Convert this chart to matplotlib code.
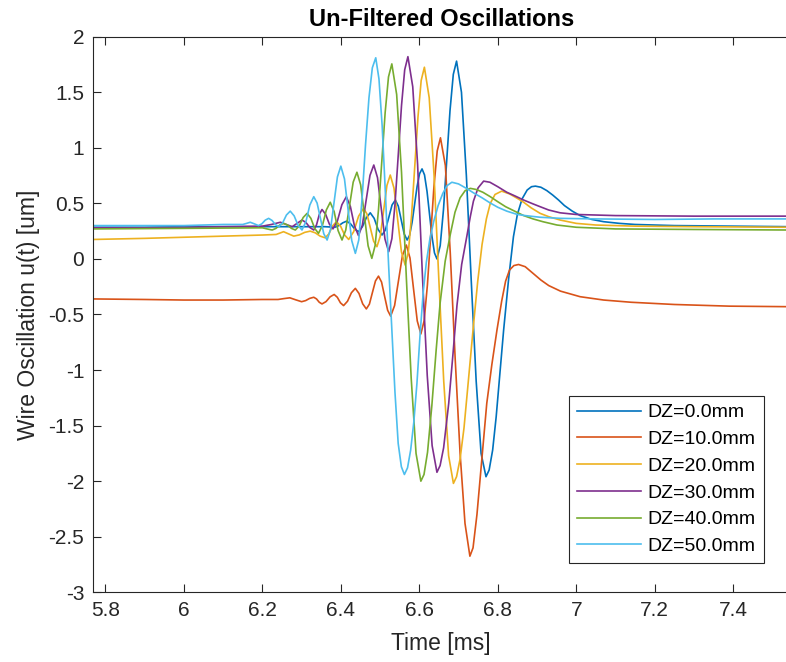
import matplotlib
matplotlib.use("Agg")
import matplotlib.pyplot as plt

plt.rcParams["font.family"] = ["Liberation Sans", "DejaVu Sans"]
plt.rcParams["axes.unicode_minus"] = False

# (time [ms], u [um])
dz0 = [(5.767, 0.285), (5.9, 0.285), (6.0, 0.29), (6.1, 0.29), (6.2, 0.29), (6.3, 0.29), (6.36, 0.29),
       (6.385, 0.285), (6.395, 0.30), (6.405, 0.325), (6.415, 0.34), (6.425, 0.315), (6.435, 0.27),
       (6.445, 0.245), (6.455, 0.29), (6.465, 0.37), (6.475, 0.415), (6.485, 0.365), (6.495, 0.265),
       (6.505, 0.215), (6.5135, 0.26), (6.522, 0.37), (6.5305, 0.485), (6.539, 0.53), (6.5465, 0.475),
       (6.554, 0.35), (6.5615, 0.225), (6.569, 0.17), (6.5753, 0.213), (6.5817, 0.33), (6.588, 0.49),
       (6.5943, 0.65), (6.6007, 0.767), (6.607, 0.81), (6.6133, 0.756), (6.6197, 0.608), (6.626, 0.405),
       (6.6323, 0.203), (6.6387, 0.054), (6.645, 0.0), (6.6533, 0.119), (6.6617, 0.445), (6.67, 0.89),
       (6.6783, 1.335), (6.6867, 1.661), (6.695, 1.78), (6.7075, 1.5), (6.72, 0.75), (6.7325, -0.2),
       (6.745, -1.1), (6.7575, -1.75), (6.770, -1.96), (6.778, -1.9), (6.787, -1.72), (6.796, -1.42),
       (6.805, -1.05), (6.815, -0.64), (6.828, -0.17), (6.840, 0.2), (6.850, 0.4), (6.862, 0.54),
       (6.875, 0.62), (6.886, 0.65), (6.896, 0.655), (6.91, 0.645), (6.925, 0.615), (6.94, 0.575),
       (6.955, 0.53), (6.97, 0.48), (6.99, 0.43), (7.01, 0.39), (7.04, 0.355), (7.07, 0.335),
       (7.11, 0.32), (7.15, 0.31), (7.25, 0.30), (7.4, 0.295), (7.545, 0.29)]

dz10 = [(5.767, -0.36), (5.9, -0.365), (6.0, -0.37), (6.1, -0.37), (6.2, -0.365), (6.24, -0.365),
        (6.255, -0.357), (6.27, -0.35), (6.285, -0.368), (6.30, -0.385), (6.3103, -0.375), (6.3207, -0.355),
        (6.331, -0.345), (6.338, -0.36), (6.345, -0.39), (6.352, -0.405), (6.3623, -0.384), (6.3727, -0.341),
        (6.383, -0.32), (6.391, -0.345), (6.399, -0.395), (6.407, -0.42), (6.417, -0.381), (6.427, -0.304),
        (6.437, -0.265), (6.4463, -0.311), (6.4557, -0.404), (6.465, -0.45), (6.4728, -0.407),
        (6.4805, -0.3025), (6.4883, -0.198), (6.496, -0.155), (6.5038, -0.208), (6.5115, -0.335),
        (6.5193, -0.462), (6.527, -0.515), (6.537, -0.42), (6.547, -0.195), (6.557, 0.03), (6.567, 0.125),
        (6.5763, 0.008), (6.5855, -0.275), (6.5948, -0.558), (6.604, -0.675), (6.6123, -0.557),
        (6.6207, -0.234), (6.629, 0.2075), (6.6373, 0.649), (6.6457, 0.972), (6.654, 1.09), (6.6665, 0.84),
        (6.679, 0.05), (6.6915, -0.9), (6.704, -1.75), (6.7165, -2.38), (6.729, -2.675), (6.737, -2.6),
        (6.747, -2.3), (6.76, -1.78), (6.772, -1.3), (6.785, -0.95), (6.798, -0.64), (6.81, -0.38),
        (6.82, -0.2), (6.83, -0.1), (6.841, -0.06), (6.853, -0.05), (6.87, -0.07), (6.89, -0.13),
        (6.91, -0.19), (6.93, -0.24), (6.96, -0.29), (7.01, -0.34), (7.07, -0.37), (7.14, -0.39),
        (7.25, -0.41), (7.39, -0.425), (7.545, -0.43)]

dz20 = [(5.767, 0.175), (5.9, 0.185), (6.0, 0.195), (6.1, 0.205), (6.2, 0.215), (6.235, 0.22),
        (6.245, 0.233), (6.254, 0.245), (6.267, 0.225), (6.28, 0.205), (6.294, 0.216), (6.308, 0.239),
        (6.322, 0.25), (6.3347, 0.235), (6.3473, 0.205), (6.36, 0.19), (6.3697, 0.226), (6.3793, 0.299),
        (6.389, 0.335), (6.3993, 0.295), (6.4097, 0.215), (6.42, 0.175), (6.4327, 0.245), (6.4453, 0.385),
        (6.458, 0.455), (6.4665, 0.405), (6.475, 0.2825), (6.4835, 0.16), (6.492, 0.11), (6.5005, 0.204),
        (6.509, 0.4325), (6.5175, 0.661), (6.526, 0.755), (6.5355, 0.637), (6.545, 0.35), (6.5545, 0.063),
        (6.564, -0.055), (6.5722, 0.064), (6.5803, 0.39), (6.5885, 0.835), (6.5967, 1.28), (6.6048, 1.606),
        (6.613, 1.725), (6.6253, 1.45), (6.6377, 0.75), (6.65, -0.2), (6.6623, -1.1), (6.6747, -1.77),
        (6.687, -2.02), (6.695, -1.96), (6.704, -1.8), (6.714, -1.52), (6.725, -1.1), (6.738, -0.6),
        (6.749, -0.2), (6.76, 0.13), (6.771, 0.36), (6.781, 0.5), (6.793, 0.58), (6.81, 0.61),
        (6.83, 0.585), (6.85, 0.545), (6.866, 0.51), (6.885, 0.46), (6.908, 0.41), (6.93, 0.38),
        (6.959, 0.35), (7.0, 0.32), (7.05, 0.305), (7.15, 0.295), (7.3, 0.29), (7.545, 0.285)]

dz30 = [(5.767, 0.28), (5.9, 0.28), (6.0, 0.285), (6.1, 0.29), (6.2, 0.295), (6.223, 0.31),
        (6.246, 0.33), (6.261, 0.31), (6.276, 0.29), (6.2885, 0.32), (6.301, 0.35), (6.311, 0.328),
        (6.321, 0.283), (6.331, 0.26), (6.338, 0.306), (6.345, 0.399), (6.352, 0.445), (6.3613, 0.401),
        (6.3707, 0.314), (6.38, 0.27), (6.3913, 0.3425), (6.4027, 0.4875), (6.414, 0.56), (6.4243, 0.4725),
        (6.4347, 0.2975), (6.445, 0.21), (6.4548, 0.303), (6.4645, 0.5275), (6.4743, 0.752), (6.484, 0.845),
        (6.4935, 0.731), (6.503, 0.455), (6.5125, 0.179), (6.522, 0.065), (6.5302, 0.183), (6.5383, 0.504),
        (6.5465, 0.9425), (6.5547, 1.381), (6.5628, 1.702), (6.571, 1.82), (6.5833, 1.55), (6.5957, 0.85),
        (6.608, -0.15), (6.6203, -1.05), (6.6327, -1.68), (6.645, -1.92), (6.653, -1.86), (6.662, -1.7),
        (6.675, -1.3), (6.686, -0.85), (6.696, -0.42), (6.708, -0.05), (6.721, 0.2), (6.73, 0.38),
        (6.738, 0.52), (6.75, 0.64), (6.764, 0.70), (6.78, 0.69), (6.8, 0.65), (6.823, 0.60),
        (6.845, 0.565), (6.866, 0.53), (6.89, 0.495), (6.908, 0.47), (6.93, 0.44), (6.959, 0.415),
        (7.0, 0.40), (7.1, 0.39), (7.3, 0.385), (7.545, 0.385)]

dz40 = [(5.767, 0.27), (6.0, 0.275), (6.2, 0.28), (6.212, 0.27), (6.225, 0.26), (6.2347, 0.275),
        (6.2443, 0.305), (6.254, 0.32), (6.264, 0.305), (6.274, 0.275), (6.284, 0.26), (6.294, 0.2975),
        (6.304, 0.3725), (6.314, 0.41), (6.3237, 0.365), (6.3333, 0.275), (6.343, 0.23), (6.353, 0.30),
        (6.363, 0.44), (6.373, 0.51), (6.383, 0.425), (6.393, 0.255), (6.403, 0.17), (6.4125, 0.259),
        (6.422, 0.475), (6.4315, 0.691), (6.441, 0.78), (6.4505, 0.667), (6.46, 0.3925), (6.4695, 0.118),
        (6.479, 0.005), (6.4875, 0.122), (6.496, 0.4425), (6.5045, 0.88), (6.513, 1.3175), (6.5215, 1.638),
        (6.530, 1.755), (6.5423, 1.48), (6.5547, 0.78), (6.567, -0.17), (6.5793, -1.07), (6.5917, -1.75),
        (6.604, -2.0), (6.612, -1.94), (6.621, -1.74), (6.632, -1.32), (6.643, -0.82), (6.653, -0.4),
        (6.666, -0.02), (6.679, 0.22), (6.691, 0.42), (6.704, 0.55), (6.717, 0.615), (6.73, 0.635),
        (6.745, 0.625), (6.762, 0.6), (6.781, 0.56), (6.80, 0.515), (6.82, 0.47), (6.843, 0.43),
        (6.866, 0.39), (6.89, 0.36), (6.915, 0.335), (6.951, 0.305), (7.0, 0.285), (7.1, 0.27),
        (7.3, 0.265), (7.545, 0.26)]

dz50 = [(5.767, 0.30), (5.9, 0.30), (6.0, 0.30), (6.1, 0.31), (6.15, 0.31), (6.16, 0.32), (6.169, 0.33),
        (6.18, 0.315), (6.19, 0.30), (6.1987, 0.316), (6.2073, 0.349), (6.216, 0.365), (6.2247, 0.346),
        (6.2333, 0.309), (6.242, 0.29), (6.2517, 0.325), (6.2613, 0.395), (6.271, 0.43), (6.281, 0.3875),
        (6.291, 0.3025), (6.301, 0.26), (6.311, 0.335), (6.321, 0.485), (6.331, 0.56), (6.3395, 0.503),
        (6.348, 0.365), (6.3565, 0.227), (6.365, 0.17), (6.3738, 0.267), (6.3825, 0.5025), (6.3913, 0.738),
        (6.400, 0.835), (6.4093, 0.72), (6.4185, 0.4425), (6.4278, 0.165), (6.437, 0.05), (6.4457, 0.17),
        (6.4543, 0.55), (6.463, 1.03), (6.4717, 1.45), (6.4803, 1.72), (6.489, 1.81), (6.4972, 1.62),
        (6.5053, 1.2), (6.5135, 0.6), (6.5217, -0.05), (6.5298, -0.62), (6.538, -1.2), (6.5462, -1.66),
        (6.5543, -1.87), (6.562, -1.94), (6.57, -1.88), (6.578, -1.72), (6.586, -1.47), (6.594, -1.12),
        (6.602, -0.68), (6.61, -0.3), (6.618, -0.03), (6.627, 0.18), (6.637, 0.34), (6.648, 0.48),
        (6.66, 0.59), (6.671, 0.66), (6.683, 0.69), (6.70, 0.675), (6.72, 0.635), (6.738, 0.595),
        (6.76, 0.55), (6.78, 0.505), (6.80, 0.465), (6.823, 0.43), (6.85, 0.40), (6.87, 0.39),
        (6.908, 0.375), (6.96, 0.365), (7.05, 0.36), (7.2, 0.355), (7.35, 0.36), (7.545, 0.36)]

series = [dz0, dz10, dz20, dz30, dz40, dz50]
labels = ["DZ=0.0mm", "DZ=10.0mm", "DZ=20.0mm", "DZ=30.0mm", "DZ=40.0mm", "DZ=50.0mm"]
colors = ["#0072BD", "#D95319", "#EDB120", "#7E2F8E", "#77AC30", "#4DBEEE"]

xticks = [5.8, 6.0, 6.2, 6.4, 6.6, 6.8, 7.0, 7.2, 7.4]
xticklabels = ["5.8", "6", "6.2", "6.4", "6.6", "6.8", "7", "7.2", "7.4"]
yticks = [-3, -2.5, -2, -1.5, -1, -0.5, 0, 0.5, 1, 1.5, 2]
yticklabels = ["-3", "-2.5", "-2", "-1.5", "-1", "-0.5", "0", "0.5", "1", "1.5", "2"]

fig = plt.figure(figsize=(7.86, 6.62), dpi=100)
ax = fig.add_axes([0.1177, 0.1053, 0.8874, 0.8393])

for pts, lab, col in zip(series, labels, colors):
    t = [p[0] for p in pts]
    u = [p[1] for p in pts]
    ax.plot(t, u, color=col, linewidth=1.2, label=lab)

ax.set_xlim(5.767, 7.545)
ax.set_ylim(-3, 2)
ax.set_xticks(xticks)
ax.set_xticklabels(xticklabels)
ax.set_yticks(yticks)
ax.set_yticklabels(yticklabels)

edge = "#262626"
for s in ax.spines.values():
    s.set_color(edge)
    s.set_linewidth(0.8)
ax.tick_params(direction="in", top=True, right=False, length=6, width=0.8,
               colors=edge, labelsize=15, pad=6)

ax.set_xlabel("Time [ms]", fontsize=16.5, color=edge, labelpad=9)
ax.set_ylabel("Wire Oscillation u(t) [um]", fontsize=16.5, color=edge, labelpad=6)
ax.set_title("Un-Filtered Oscillations", fontsize=17, fontweight="bold", pad=8)

leg = ax.legend(loc="lower left", bbox_to_anchor=(0.683, 0.0527), borderaxespad=0,
                fontsize=14, handlelength=3.3, handletextpad=0.35, labelspacing=0.47,
                borderpad=0.4, fancybox=False, framealpha=1)
leg.get_frame().set_edgecolor(edge)
leg.get_frame().set_linewidth(0.8)

fig.savefig("out.png", dpi=100)
